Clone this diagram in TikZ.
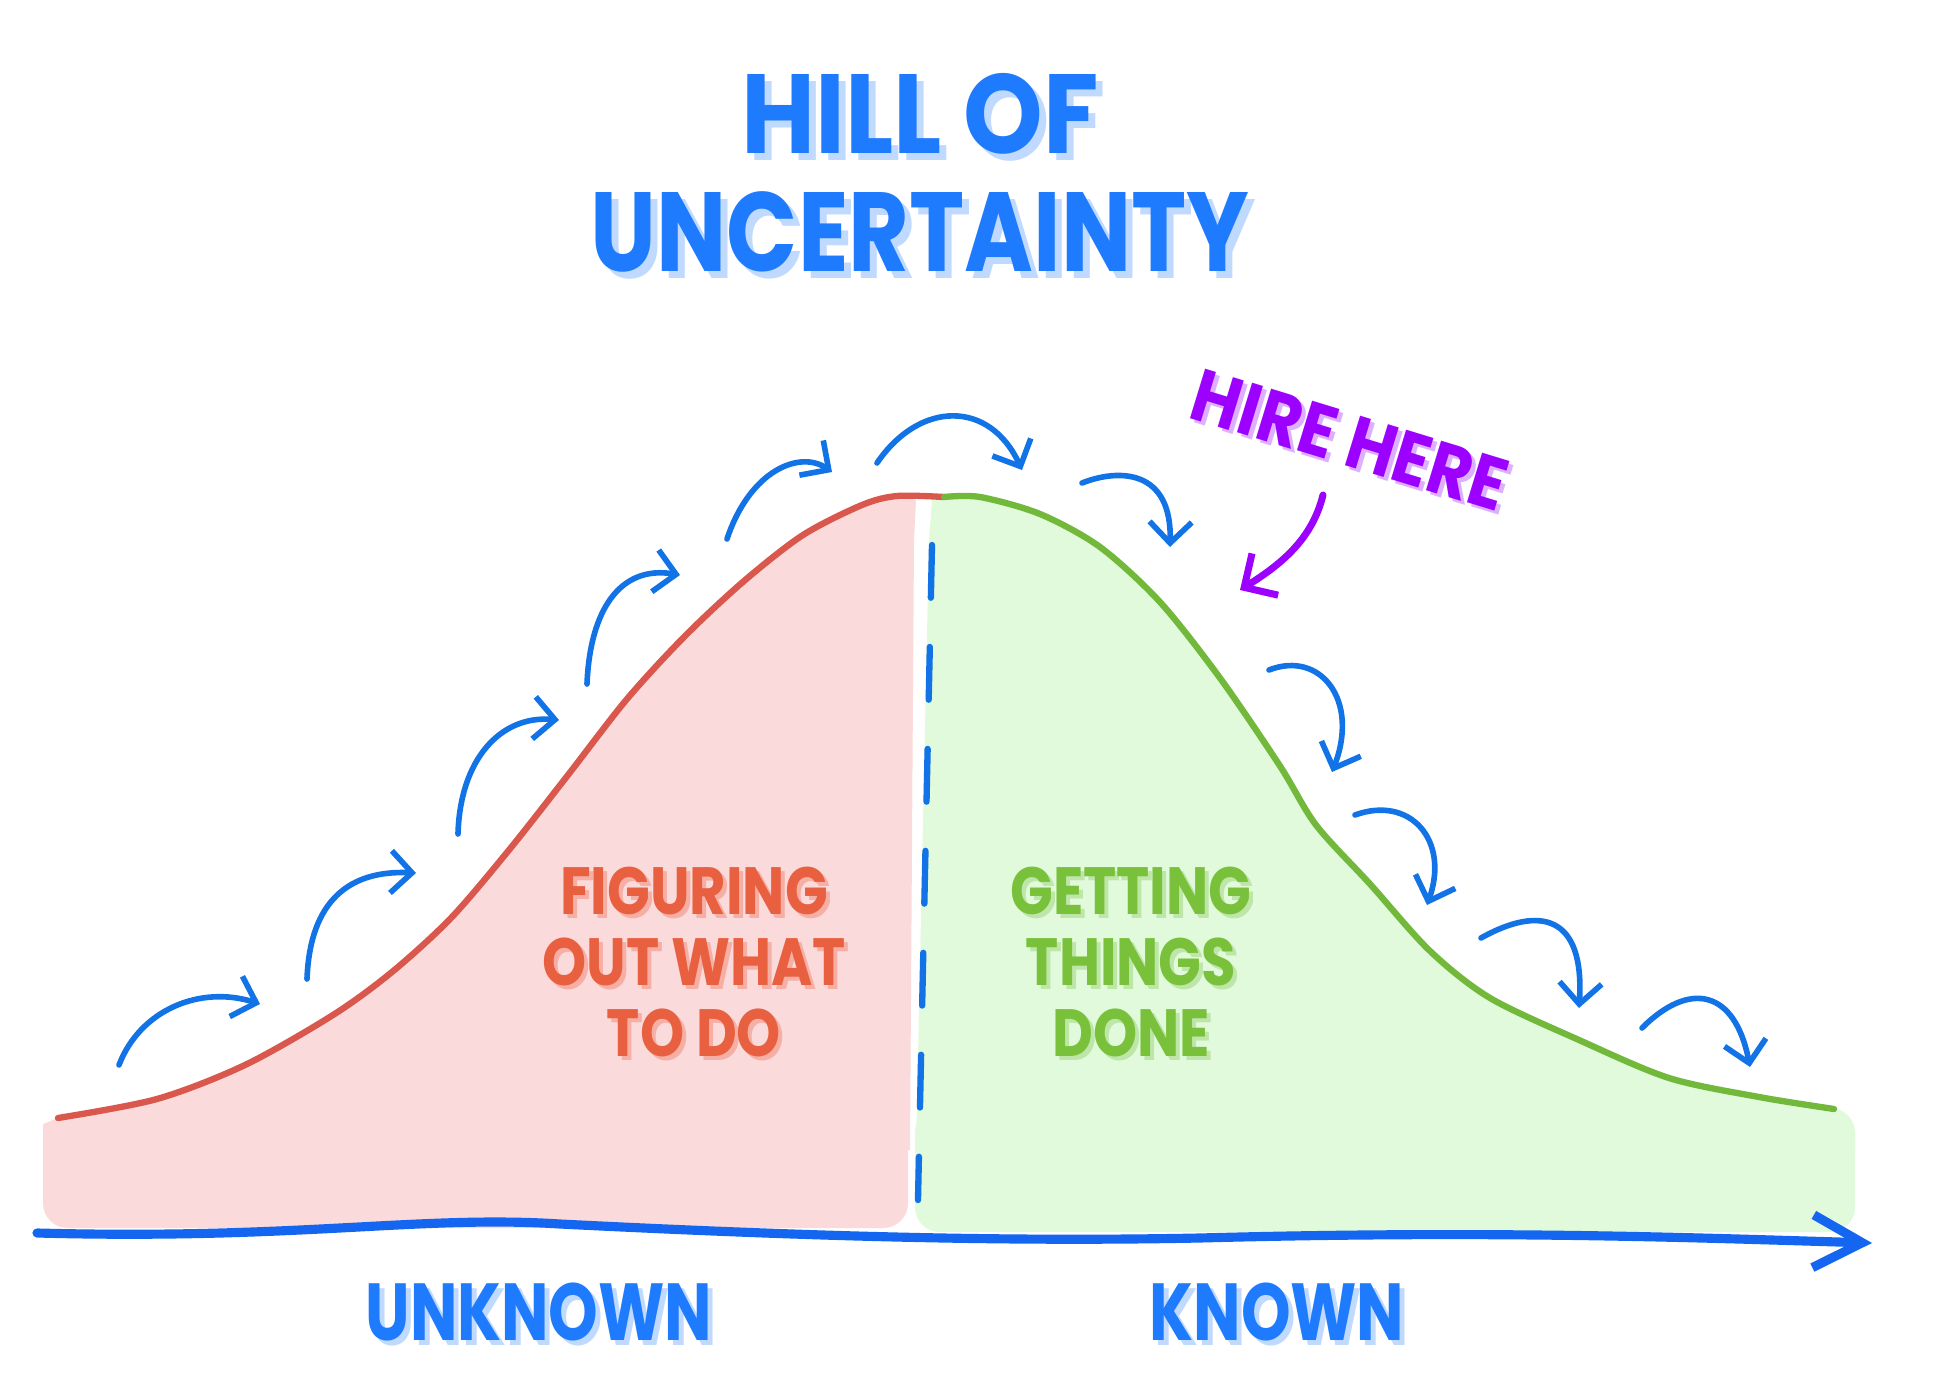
\documentclass[tikz,border=0pt]{standalone}
\usepackage{fontspec}
\newfontfamily\handfont{Poppins}
\usetikzlibrary{arrows.meta}

\definecolor{titleblue}{HTML}{1F7BFD}
\definecolor{titleshade}{HTML}{BFD9FF}
\definecolor{arrowblue}{HTML}{1273E6}
\definecolor{axisblue}{HTML}{1466F0}
\definecolor{hirepurple}{HTML}{9C00FF}
\definecolor{hireshade}{HTML}{DDB0FF}
\definecolor{redtext}{HTML}{E8603F}
\definecolor{redshade}{HTML}{F6AFA5}
\definecolor{greentext}{HTML}{79C13A}
\definecolor{greenshade}{HTML}{BDE6A8}
\definecolor{redline}{HTML}{D9574C}
\definecolor{greenline}{HTML}{72B83A}
\definecolor{redfill}{HTML}{FADADA}
\definecolor{greenfill}{HTML}{E0FADB}

\tikzset{
  hand/.style={font=\handfont\bfseries, inner sep=0pt},
  hop/.style={draw=arrowblue, line width=1.6pt, line cap=round,
    -{Straight Barb[length=6pt, width=12pt]}},
}

\begin{document}
\begin{tikzpicture}[x=0.01cm, y=-0.01cm]
\useasboundingbox (0,0) rectangle (1944,1376);

% Filled areas under the hill
\fill[redfill] plot[smooth] coordinates {(58,1118) (157,1099) (245,1065) (333,1015) (392,972) (451,918) (509,850) (568,775) (627,699) (685,636) (744,581) (803,535) (862,505) (897,496) (916,500)}
  -- (914,540) -- (910,1150) -- (43,1150) -- (43,1124) -- cycle;
\fill[redfill, rounded corners=7pt] (43,1122) rectangle (908,1228);
\fill[greenfill] plot[smooth] coordinates {(944,497) (980,497) (1040,514) (1100,547) (1160,602) (1220,678) (1280,766) (1316,825) (1370,884) (1430,951) (1490,998) (1579,1040) (1669,1078) (1759,1097) (1834,1109)}
  -- (1855,1130) -- (1855,1150) -- (916,1150) -- (929,540) -- (932,500) -- cycle;
\fill[greenfill, rounded corners=7pt] (915,1108) rectangle (1855,1232);

% The hill itself
\draw[redline, line width=1.8pt, line cap=round] plot[smooth] coordinates {(58,1118) (157,1099) (245,1065) (333,1015) (392,972) (451,918) (509,850) (568,775) (627,699) (685,636) (744,581) (803,535) (862,505) (897,496) (944,497)};
\draw[greenline, line width=1.8pt, line cap=round] plot[smooth] coordinates {(944,497) (980,497) (1040,514) (1100,547) (1160,602) (1220,678) (1280,766) (1316,825) (1370,884) (1430,951) (1490,998) (1579,1040) (1669,1078) (1759,1097) (1834,1109)};

% Split between the two halves
\coordinate (splittop) at (932,545);
\coordinate (splitbot) at (918,1200);
\draw[arrowblue, line width=1.8pt, line cap=round, dash pattern=on 15pt off 14pt] (splittop) -- (splitbot);

% Axis
\coordinate (axstart) at (37,1233);
\coordinate (axend) at (1872,1243);
\draw[axisblue, line width=2.6pt, line cap=round, -{Straight Barb[length=14pt, width=15pt]}]
  (axstart) .. controls (300,1240) and (420,1215) .. (560,1224)
  .. controls (800,1236) and (1000,1242) .. (1200,1238)
  .. controls (1500,1230) and (1700,1238) .. (axend);

% Hops up the hill
\draw[hop] (119,1065) .. controls (140,1010) and (200,985) .. (260,1004);
\draw[hop] (307,979) .. controls (310,900) and (350,870) .. (416,873);
\draw[hop] (458,834) .. controls (460,760) and (500,715) .. (559,720);
\draw[hop] (587,684) .. controls (590,610) and (620,565) .. (680,575);
\draw[hop] (727,539) .. controls (750,470) and (800,450) .. (832,472);
\draw[hop] (877,463) .. controls (920,400) and (990,400) .. (1022,470);

% Hops down the hill
\draw[hop] (1082,483) .. controls (1120,468) and (1172,470) .. (1170,547);
\draw[hop] (1269,670) .. controls (1320,650) and (1360,700) .. (1332,772);
\draw[hop] (1355,815) .. controls (1410,795) and (1450,840) .. (1427,905);
\draw[hop] (1481,938) .. controls (1540,905) and (1585,915) .. (1579,1008);
\draw[hop] (1642,1028) .. controls (1690,980) and (1735,990) .. (1750,1067);

% Title
\node[hand, text=titleshade, font=\handfont\bfseries\fontsize{32}{34}\selectfont, xscale=0.9] (titleAs) at (927,121) {HILL OF};
\node[hand, text=titleblue, font=\handfont\bfseries\fontsize{32}{34}\selectfont, xscale=0.9] (titleA) at (920,114) {HILL OF};
\node[hand, text=titleshade, font=\handfont\bfseries\fontsize{32}{34}\selectfont, xscale=0.83] (titleBs) at (927,239) {UNCERTAINTY};
\node[hand, text=titleblue, font=\handfont\bfseries\fontsize{32}{34}\selectfont, xscale=0.83] (titleB) at (920,232) {UNCERTAINTY};

% Hire here
\node[hand, text=hireshade, font=\handfont\bfseries\fontsize{21}{23}\selectfont, rotate=-17, xscale=0.9] (hires) at (1354,444) {HIRE HERE};
\node[hand, text=hirepurple, font=\handfont\bfseries\fontsize{21}{23}\selectfont, rotate=-17, xscale=0.9] (hire) at (1350,440) {HIRE HERE};
\coordinate (hiretip) at (1240,590);
\draw[hirepurple, line width=2pt, line cap=round, -{Straight Barb[length=7pt, width=14pt]}]
  (1323,495) .. controls (1312,540) and (1280,565) .. (hiretip);

% Phase labels
\node[hand, text=redshade, align=center, font=\handfont\bfseries\fontsize{19}{20.2}\selectfont, xscale=0.84] (phaseAs) at (698,966) {FIGURING\\OUT WHAT\\TO DO};
\node[hand, text=redtext, align=center, font=\handfont\bfseries\fontsize{19}{20.2}\selectfont, xscale=0.84] (phaseA) at (694,962) {FIGURING\\OUT WHAT\\TO DO};
\node[hand, text=greenshade, align=center, font=\handfont\bfseries\fontsize{19}{20.2}\selectfont, xscale=0.84] (phaseBs) at (1135,966) {GETTING\\THINGS\\DONE};
\node[hand, text=greentext, align=center, font=\handfont\bfseries\fontsize{19}{20.2}\selectfont, xscale=0.84] (phaseB) at (1131,962) {GETTING\\THINGS\\DONE};

% Axis labels
\node[hand, text=titleshade, font=\handfont\bfseries\fontsize{23}{25}\selectfont, xscale=0.78] (unknowns) at (544,1317) {UNKNOWN};
\node[hand, text=titleblue, font=\handfont\bfseries\fontsize{23}{25}\selectfont, xscale=0.78] (unknown) at (539,1312) {UNKNOWN};
\node[hand, text=titleshade, font=\handfont\bfseries\fontsize{23}{25}\selectfont, xscale=0.78] (knowns) at (1282,1317) {KNOWN};
\node[hand, text=titleblue, font=\handfont\bfseries\fontsize{23}{25}\selectfont, xscale=0.78] (known) at (1277,1312) {KNOWN};

\end{tikzpicture}
\end{document}
